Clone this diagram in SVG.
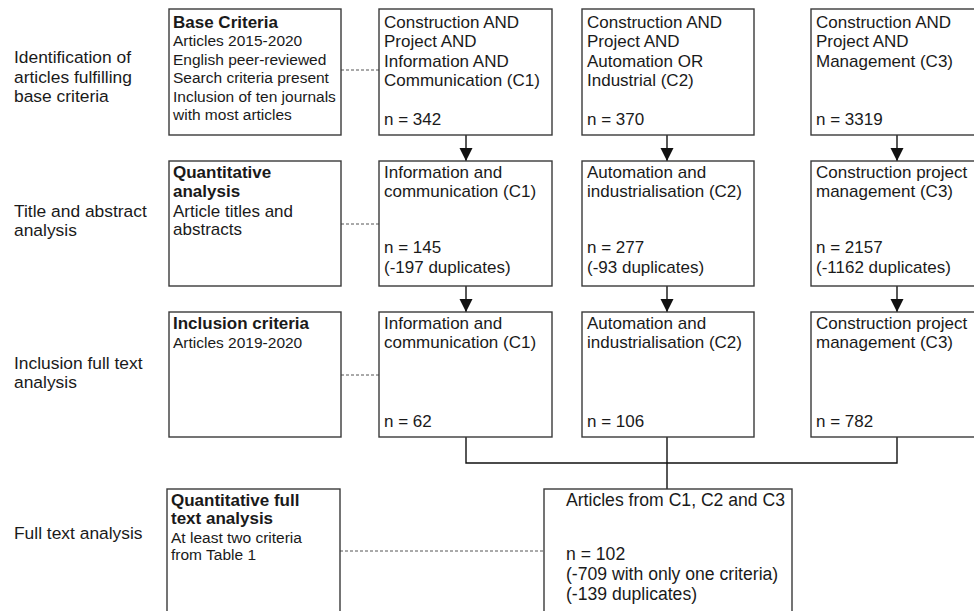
<svg xmlns="http://www.w3.org/2000/svg" width="974" height="611" viewBox="0 0 974 611">
<style>
text{font-family:"Liberation Sans",Arial,sans-serif;fill:#1a1a1a;font-size:17px}
.lbl{font-size:17.4px}
.big{font-size:17.6px}
.h{font-weight:bold;font-size:17px}
.s{font-size:15.5px}
.box{fill:#fff;stroke:#3a3a3a;stroke-width:1.4}
.con{fill:none;stroke:#111;stroke-width:1.4}
.dash{fill:none;stroke:#555;stroke-width:1;stroke-dasharray:3 2}
</style>
<defs>
<marker id="arr" markerUnits="userSpaceOnUse" markerWidth="14" markerHeight="14" refX="13" refY="6.5" orient="auto">
<path d="M0,0 L13,6.5 L0,13 Z" fill="#111"/>
</marker>
</defs>
<rect width="974" height="611" fill="#fff"/>

<g id="labels">
<text class="lbl" x="14" y="63">Identification of</text>
<text class="lbl" x="14" y="82.5">articles fulfilling</text>
<text class="lbl" x="14" y="102">base criteria</text>
<text class="lbl" x="14" y="217">Title and abstract</text>
<text class="lbl" x="14" y="235.5">analysis</text>
<text class="lbl" x="14" y="369">Inclusion full text</text>
<text class="lbl" x="14" y="388">analysis</text>
<text class="lbl" x="14" y="539">Full text analysis</text>
</g>

<g id="connectors">
<line class="dash" x1="341" y1="70" x2="379" y2="70"/>
<line class="dash" x1="341" y1="224" x2="379" y2="224"/>
<line class="dash" x1="341" y1="375" x2="379" y2="375"/>
<line class="dash" x1="340" y1="551" x2="544" y2="551"/>
<line class="con" x1="466" y1="135" x2="466" y2="161" marker-end="url(#arr)"/>
<line class="con" x1="667" y1="135" x2="667" y2="161" marker-end="url(#arr)"/>
<line class="con" x1="897" y1="135" x2="897" y2="161" marker-end="url(#arr)"/>
<line class="con" x1="466" y1="286" x2="466" y2="312" marker-end="url(#arr)"/>
<line class="con" x1="667" y1="286" x2="667" y2="312" marker-end="url(#arr)"/>
<line class="con" x1="897" y1="286" x2="897" y2="312" marker-end="url(#arr)"/>
<path class="con" d="M466,437 V463 H897 V437 M667,437 V489"/>
</g>

<g id="base-criteria">
<rect class="box" x="169" y="9" width="172" height="126"/>
<text class="h" x="173" y="27.5">Base Criteria</text>
<text class="s" x="173" y="46">Articles 2015-2020</text>
<text class="s" x="173" y="64.5">English peer-reviewed</text>
<text class="s" x="173" y="83">Search criteria present</text>
<text class="s" x="173" y="101.5">Inclusion of ten journals</text>
<text class="s" x="173" y="120">with most articles</text>
</g>

<g id="c1-search">
<rect class="box" x="379" y="9" width="173" height="126"/>
<text x="384" y="27.5">Construction AND</text>
<text x="384" y="47">Project AND</text>
<text x="384" y="66.5">Information AND</text>
<text x="384" y="86">Communication (C1)</text>
<text x="384" y="125">n = 342</text>
</g>

<g id="c2-search">
<rect class="box" x="582" y="9" width="172" height="126"/>
<text x="587" y="27.5">Construction AND</text>
<text x="587" y="47">Project AND</text>
<text x="587" y="66.5">Automation OR</text>
<text x="587" y="86">Industrial (C2)</text>
<text x="587" y="125">n = 370</text>
</g>

<g id="c3-search">
<rect class="box" x="811" y="9" width="172" height="126"/>
<text x="816" y="27.5">Construction AND</text>
<text x="816" y="47">Project AND</text>
<text x="816" y="66.5">Management (C3)</text>
<text x="816" y="125">n = 3319</text>
</g>

<g id="quant-analysis">
<rect class="box" x="169" y="161" width="172" height="125"/>
<text class="h" x="173" y="178">Quantitative</text>
<text class="h" x="173" y="196.5">analysis</text>
<text x="173" y="216.5">Article titles and</text>
<text x="173" y="235">abstracts</text>
</g>

<g id="c1-title">
<rect class="box" x="379" y="161" width="173" height="125"/>
<text x="384" y="178">Information and</text>
<text x="384" y="197">communication (C1)</text>
<text x="384" y="253">n = 145</text>
<text x="384" y="273">(-197 duplicates)</text>
</g>

<g id="c2-title">
<rect class="box" x="582" y="161" width="172" height="125"/>
<text x="587" y="178">Automation and</text>
<text x="587" y="197">industrialisation (C2)</text>
<text x="587" y="253">n = 277</text>
<text x="587" y="273">(-93 duplicates)</text>
</g>

<g id="c3-title">
<rect class="box" x="811" y="161" width="172" height="125"/>
<text x="816" y="178">Construction project</text>
<text x="816" y="197">management (C3)</text>
<text x="816" y="253">n = 2157</text>
<text x="816" y="273">(-1162 duplicates)</text>
</g>

<g id="inclusion-criteria">
<rect class="box" x="169" y="312" width="172" height="125"/>
<text class="h" x="173" y="329">Inclusion criteria</text>
<text class="s" x="173" y="347.5">Articles 2019-2020</text>
</g>

<g id="c1-full">
<rect class="box" x="379" y="312" width="173" height="125"/>
<text x="384" y="329">Information and</text>
<text x="384" y="348">communication (C1)</text>
<text x="384" y="427">n = 62</text>
</g>

<g id="c2-full">
<rect class="box" x="582" y="312" width="172" height="125"/>
<text x="587" y="329">Automation and</text>
<text x="587" y="348">industrialisation (C2)</text>
<text x="587" y="427">n = 106</text>
</g>

<g id="c3-full">
<rect class="box" x="811" y="312" width="172" height="125"/>
<text x="816" y="329">Construction project</text>
<text x="816" y="348">management (C3)</text>
<text x="816" y="427">n = 782</text>
</g>

<g id="quant-full">
<rect class="box" x="167" y="489" width="173" height="140"/>
<text class="h" x="171" y="505.5">Quantitative full</text>
<text class="h" x="171" y="524">text analysis</text>
<text class="s" x="171" y="543">At least two criteria</text>
<text class="s" x="171" y="560">from Table 1</text>
</g>

<g id="combined">
<rect class="box" x="544" y="489" width="248" height="140"/>
<text class="big" x="566" y="505.5">Articles from C1, C2 and C3</text>
<text class="big" x="566" y="560">n = 102</text>
<text class="big" x="566" y="580">(-709 with only one criteria)</text>
<text class="big" x="566" y="600">(-139 duplicates)</text>
</g>
</svg>
